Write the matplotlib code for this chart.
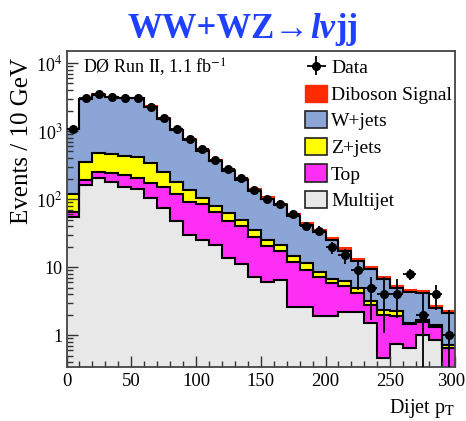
import numpy as np
import matplotlib
matplotlib.use("Agg")
import matplotlib.pyplot as plt
import matplotlib.transforms as mtransforms
from matplotlib.patches import Patch
from matplotlib.offsetbox import TextArea, HPacker, AnnotationBbox
from matplotlib.ticker import (FixedLocator, FixedFormatter, LogLocator,
                               MultipleLocator, NullFormatter)

plt.rcParams['font.family'] = ['Liberation Serif', 'DejaVu Serif']
plt.rcParams['mathtext.fontset'] = 'stix'

# Dijet pT histogram, 10 GeV bins from 0 to 300 GeV
bin_edges = list(range(0, 310, 10))

data_counts = [1070, 3020, 3500, 3180, 3080, 3080, 2280, 1540, 1060, 755,
               537, 375, 273, 201, 135, 100, 86, 61, 40, 34,
               19.5, 15, 9, 5, 4, 4, 8, 2, 4, 1]
data_err_lo = [33, 55, 59, 56, 55, 55, 48, 39, 33, 27,
               23, 19, 17, 14, 12, 10, 9.3, 7.8, 6.3, 5.8,
               4.0, 4.0, 4.4, 3.34, 2.94, 2.24, 1.6, 1.99, 1.67, 0.99]
data_err_hi = [33, 55, 59, 56, 55, 55, 48, 39, 33, 27,
               23, 19, 17, 14, 12, 10, 9.3, 7.8, 6.3, 5.8,
               4.0, 3.5, 3.7, 2.2, 3.1, 2.6, 1.5, 2.1, 1.4, 1.33]

multijet = [55, 161, 201, 180, 152, 140, 102, 73, 47, 29.5,
            25, 21, 13.4, 11.2, 7.2, 6.0, 6.4, 2.6, 2.6, 1.9,
            1.9, 2.2, 2.2, 1.5, 0.46, 0.75, 0.64, 1.0, 0.84, 0.0]
top = [10, 29, 52, 59, 73, 61, 72, 79, 70, 61.5,
       59, 43, 33.6, 28.8, 20.3, 14.6, 10.8, 9.1, 6.6, 5.3,
       3.9, 3.1, 2.0, 1.26, 1.51, 1.15, 0.80, 0.57, 0.48, 0.64]
z_jets = [53, 165, 217, 219, 205, 219, 161, 101, 63, 44,
          21, 16, 14.5, 9, 7.5, 4.2, 3.8, 2.8, 2.1, 1.3,
          0.8, 0.9, 0.7, 0.44, 0.36, 0.35, 0.08, 0.09, 0.08, 0.07]
w_jets = [959, 2633, 2958, 2662, 2635, 2592, 1927, 1273, 840, 600,
          404, 283, 194.5, 140, 96.5, 74.7, 59.8, 41.5, 29.7, 24.1,
          18.1, 11.3, 7.2, 6.1, 4.37, 2.67, 2.78, 2.46, 1.12, 1.44]
diboson = [3, 12, 22, 30, 35, 38, 38, 34, 30, 25,
           21, 17, 14, 11, 8.5, 6.5, 5.2, 4, 3, 2.4,
           1.8, 1.3, 0.9, 0.7, 0.5, 0.38, 0.3, 0.28, 0.18, 0.15]

legend_labels = ['Data', 'Diboson Signal', 'W+jets', 'Z+jets', 'Top', 'Multijet']
xtick_values = [0, 50, 100, 150, 200, 250, 300]
ytick_values = [1, 10, 100, 1000, 10000]
ytick_labels = ['1', '10', r'10$^{2}$', r'10$^{3}$', r'10$^{4}$']

col_db = '#ff2a00'
col_w = '#8ba5d6'
col_z = '#ffff00'
col_top = '#ff2ef5'
col_mj = '#e8e8e8'

W, H = 466, 421
fig = plt.figure(figsize=(W / 100, H / 100), dpi=100)
ax = fig.add_axes([66.5 / W, 1 - 367 / H, (455 - 66.5) / W, (367 - 51) / H])
ax.set_yscale('log')
ax.set_xlim(0, 300)
ax.set_ylim(0.34, 15000)

edges = np.array(bin_edges, dtype=float)
centers = 0.5 * (edges[:-1] + edges[1:])
floor = 1e-3

cum_mj = np.array(multijet)
cum_top = cum_mj + np.array(top)
cum_z = cum_top + np.array(z_jets)
cum_w = cum_z + np.array(w_jets)
cum_db = cum_w + np.array(diboson)

layers = [(cum_db, col_db, col_db), (cum_w, col_w, 'black'),
          (cum_z, col_z, 'black'), (cum_top, col_top, 'black'),
          (cum_mj, col_mj, 'black')]
for cum, fc, ec in layers:
    vals = np.maximum(cum, floor)
    ax.stairs(vals, edges, baseline=floor, fill=True, color=fc, lw=0, zorder=1)
    ax.stairs(vals, edges, baseline=None, color=ec, lw=1.5, zorder=1.5)

data_handle = ax.errorbar(centers, data_counts, yerr=[data_err_lo, data_err_hi],
                          xerr=5, fmt='o', color='black', ms=5.5, lw=1.3,
                          capsize=0, zorder=5)

# axes styling
for s in ax.spines.values():
    s.set_color('#444444')
    s.set_linewidth(1.3)
ax.xaxis.set_major_locator(FixedLocator(xtick_values))
ax.xaxis.set_minor_locator(MultipleLocator(10))
ax.xaxis.set_major_formatter(NullFormatter())
ax.yaxis.set_major_locator(FixedLocator(ytick_values))
ax.yaxis.set_major_formatter(FixedFormatter(ytick_labels))
ax.yaxis.set_minor_locator(LogLocator(base=10, subs=np.arange(2, 10)))
ax.yaxis.set_minor_formatter(NullFormatter())
ax.tick_params(which='both', direction='in', top=False, right=False,
               color='#333333')
ax.tick_params(which='major', length=8, width=1)
ax.tick_params(which='minor', length=4, width=1)
ax.tick_params(axis='y', labelsize=13, pad=3)

# x tick labels; the last one is pulled slightly inward at the figure edge
xlab_tr = mtransforms.blended_transform_factory(ax.transData, ax.transAxes)
for v in xtick_values:
    shift = -4 / 100 if v == xtick_values[-1] else 0
    ax.text(v, -0.018, str(v), fontsize=13.5, ha='center', va='top',
            transform=xlab_tr + mtransforms.ScaledTranslation(shift, 0, fig.dpi_scale_trans))

handles = [data_handle,
           Patch(facecolor=col_db, edgecolor=col_db, lw=1),
           Patch(facecolor=col_w, edgecolor='#222222', lw=1.2),
           Patch(facecolor=col_z, edgecolor='#222222', lw=1.2),
           Patch(facecolor=col_top, edgecolor='#222222', lw=1.2),
           Patch(facecolor=col_mj, edgecolor='#222222', lw=1.2)]
ax.legend(handles, legend_labels, loc='upper right', bbox_to_anchor=(0.992, 0.978),
          frameon=False, fontsize=14, handlelength=1.12, handleheight=1.0,
          handletextpad=0.2, labelspacing=0.37, borderpad=0, borderaxespad=0)

ax.text(0.0425, 0.930, r'DØ Run II, 1.1 fb$^{-1}$', transform=ax.transAxes,
        fontsize=13, ha='left', va='baseline')

fig.text(22.5 / W, 1 - 141 / H, 'Events / 10 GeV', rotation=90,
         ha='center', va='center', fontsize=18)
ax.text(1.0, -0.145, r'Dijet p$_{\mathrm{T}}$', transform=ax.transAxes,
        ha='right', va='baseline', fontsize=14.5)

# title with italic lepton/neutrino part
tp = dict(family='Liberation Serif', weight='bold', size=25, color='#1f40ff')
title = HPacker(children=[TextArea('WW+WZ→', textprops=tp),
                          TextArea('lν', textprops=dict(tp, style='italic')),
                          TextArea('jj', textprops=tp)],
                align='baseline', pad=0, sep=0)
fig.add_artist(AnnotationBbox(title, (243 / W, 1 - 30 / H), xycoords='figure fraction',
                              frameon=False, box_alignment=(0.5, 0.5), pad=0))

fig.savefig('out.png', dpi=100)
